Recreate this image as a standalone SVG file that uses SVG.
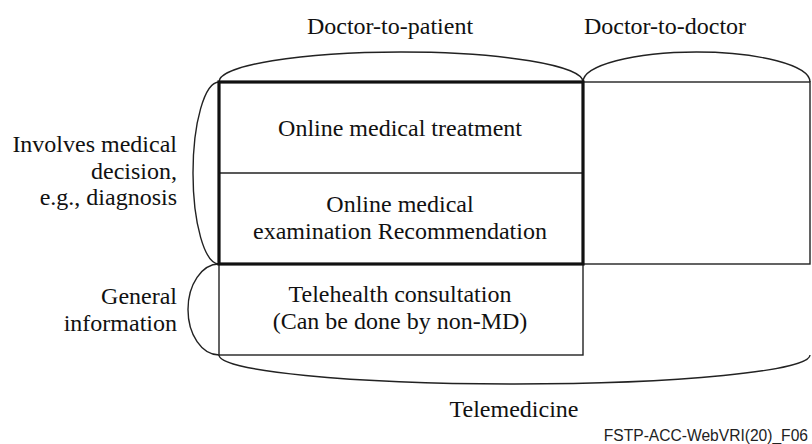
<svg xmlns="http://www.w3.org/2000/svg" width="812" height="444" viewBox="0 0 812 444">
<style>
.t{font-family:"Liberation Serif",Tinos,"Times New Roman",Times,"DejaVu Serif",serif;font-size:24px;fill:#111}
.m{text-anchor:middle}
.r{text-anchor:end}
.ln{fill:none;stroke:#222;stroke-width:1.4}
.thick{fill:none;stroke:#111;stroke-width:3.2}
.tag{font-family:"Liberation Sans",Arial,sans-serif;font-size:15.6px;fill:#222;text-anchor:end}
</style>
<rect width="812" height="444" fill="#fff"/>
<g id="connectors">
<path class="ln" d="M219,82 A182,30 0 0 1 583,82"/>
<path class="ln" d="M583,82 A113.5,30 0 0 1 810,82"/>
<path class="ln" d="M219,82 A26,91 0 0 0 219,264"/>
<path class="ln" d="M219,264 A31,45.5 0 0 0 219,355"/>
<path class="ln" d="M219,355 A295.5,29 0 0 0 810,355"/>
</g>
<g id="header-d2p"><text class="t m" x="390" y="34" font-family="Liberation Serif, serif">Doctor-to-patient</text></g>
<g id="header-d2d"><text class="t m" x="665" y="34">Doctor-to-doctor</text></g>
<g id="label-decision">
<text class="t r" x="177" y="152">Involves medical</text>
<text class="t r" x="177" y="178.5">decision,</text>
<text class="t r" x="177" y="205">e.g., diagnosis</text>
</g>
<g id="label-general">
<text class="t r" x="177" y="304">General</text>
<text class="t r" x="177" y="331">information</text>
</g>
<g id="d2d-box"><rect class="ln" x="583" y="82" width="227" height="182"/></g>
<g id="telehealth">
<rect class="ln" x="219" y="264" width="364" height="91"/>
<text class="t m" x="400" y="302">Telehealth consultation</text>
<text class="t m" x="400" y="329">(Can be done by non-MD)</text>
</g>
<g id="online-treatment">
<line class="ln" x1="219" y1="173" x2="583" y2="173"/>
<text class="t m" x="400" y="135.5">Online medical treatment</text>
</g>
<g id="online-exam">
<text class="t m" x="400" y="211.5">Online medical</text>
<text class="t m" x="400" y="238.5">examination Recommendation</text>
</g>
<g id="md-decision-frame"><rect class="thick" x="219" y="82" width="364" height="182"/></g>
<g id="telemedicine"><text class="t m" x="514" y="417">Telemedicine</text></g>
<g id="figure-tag"><text class="tag" x="808" y="441">FSTP-ACC-WebVRI(20)_F06</text></g>
</svg>
